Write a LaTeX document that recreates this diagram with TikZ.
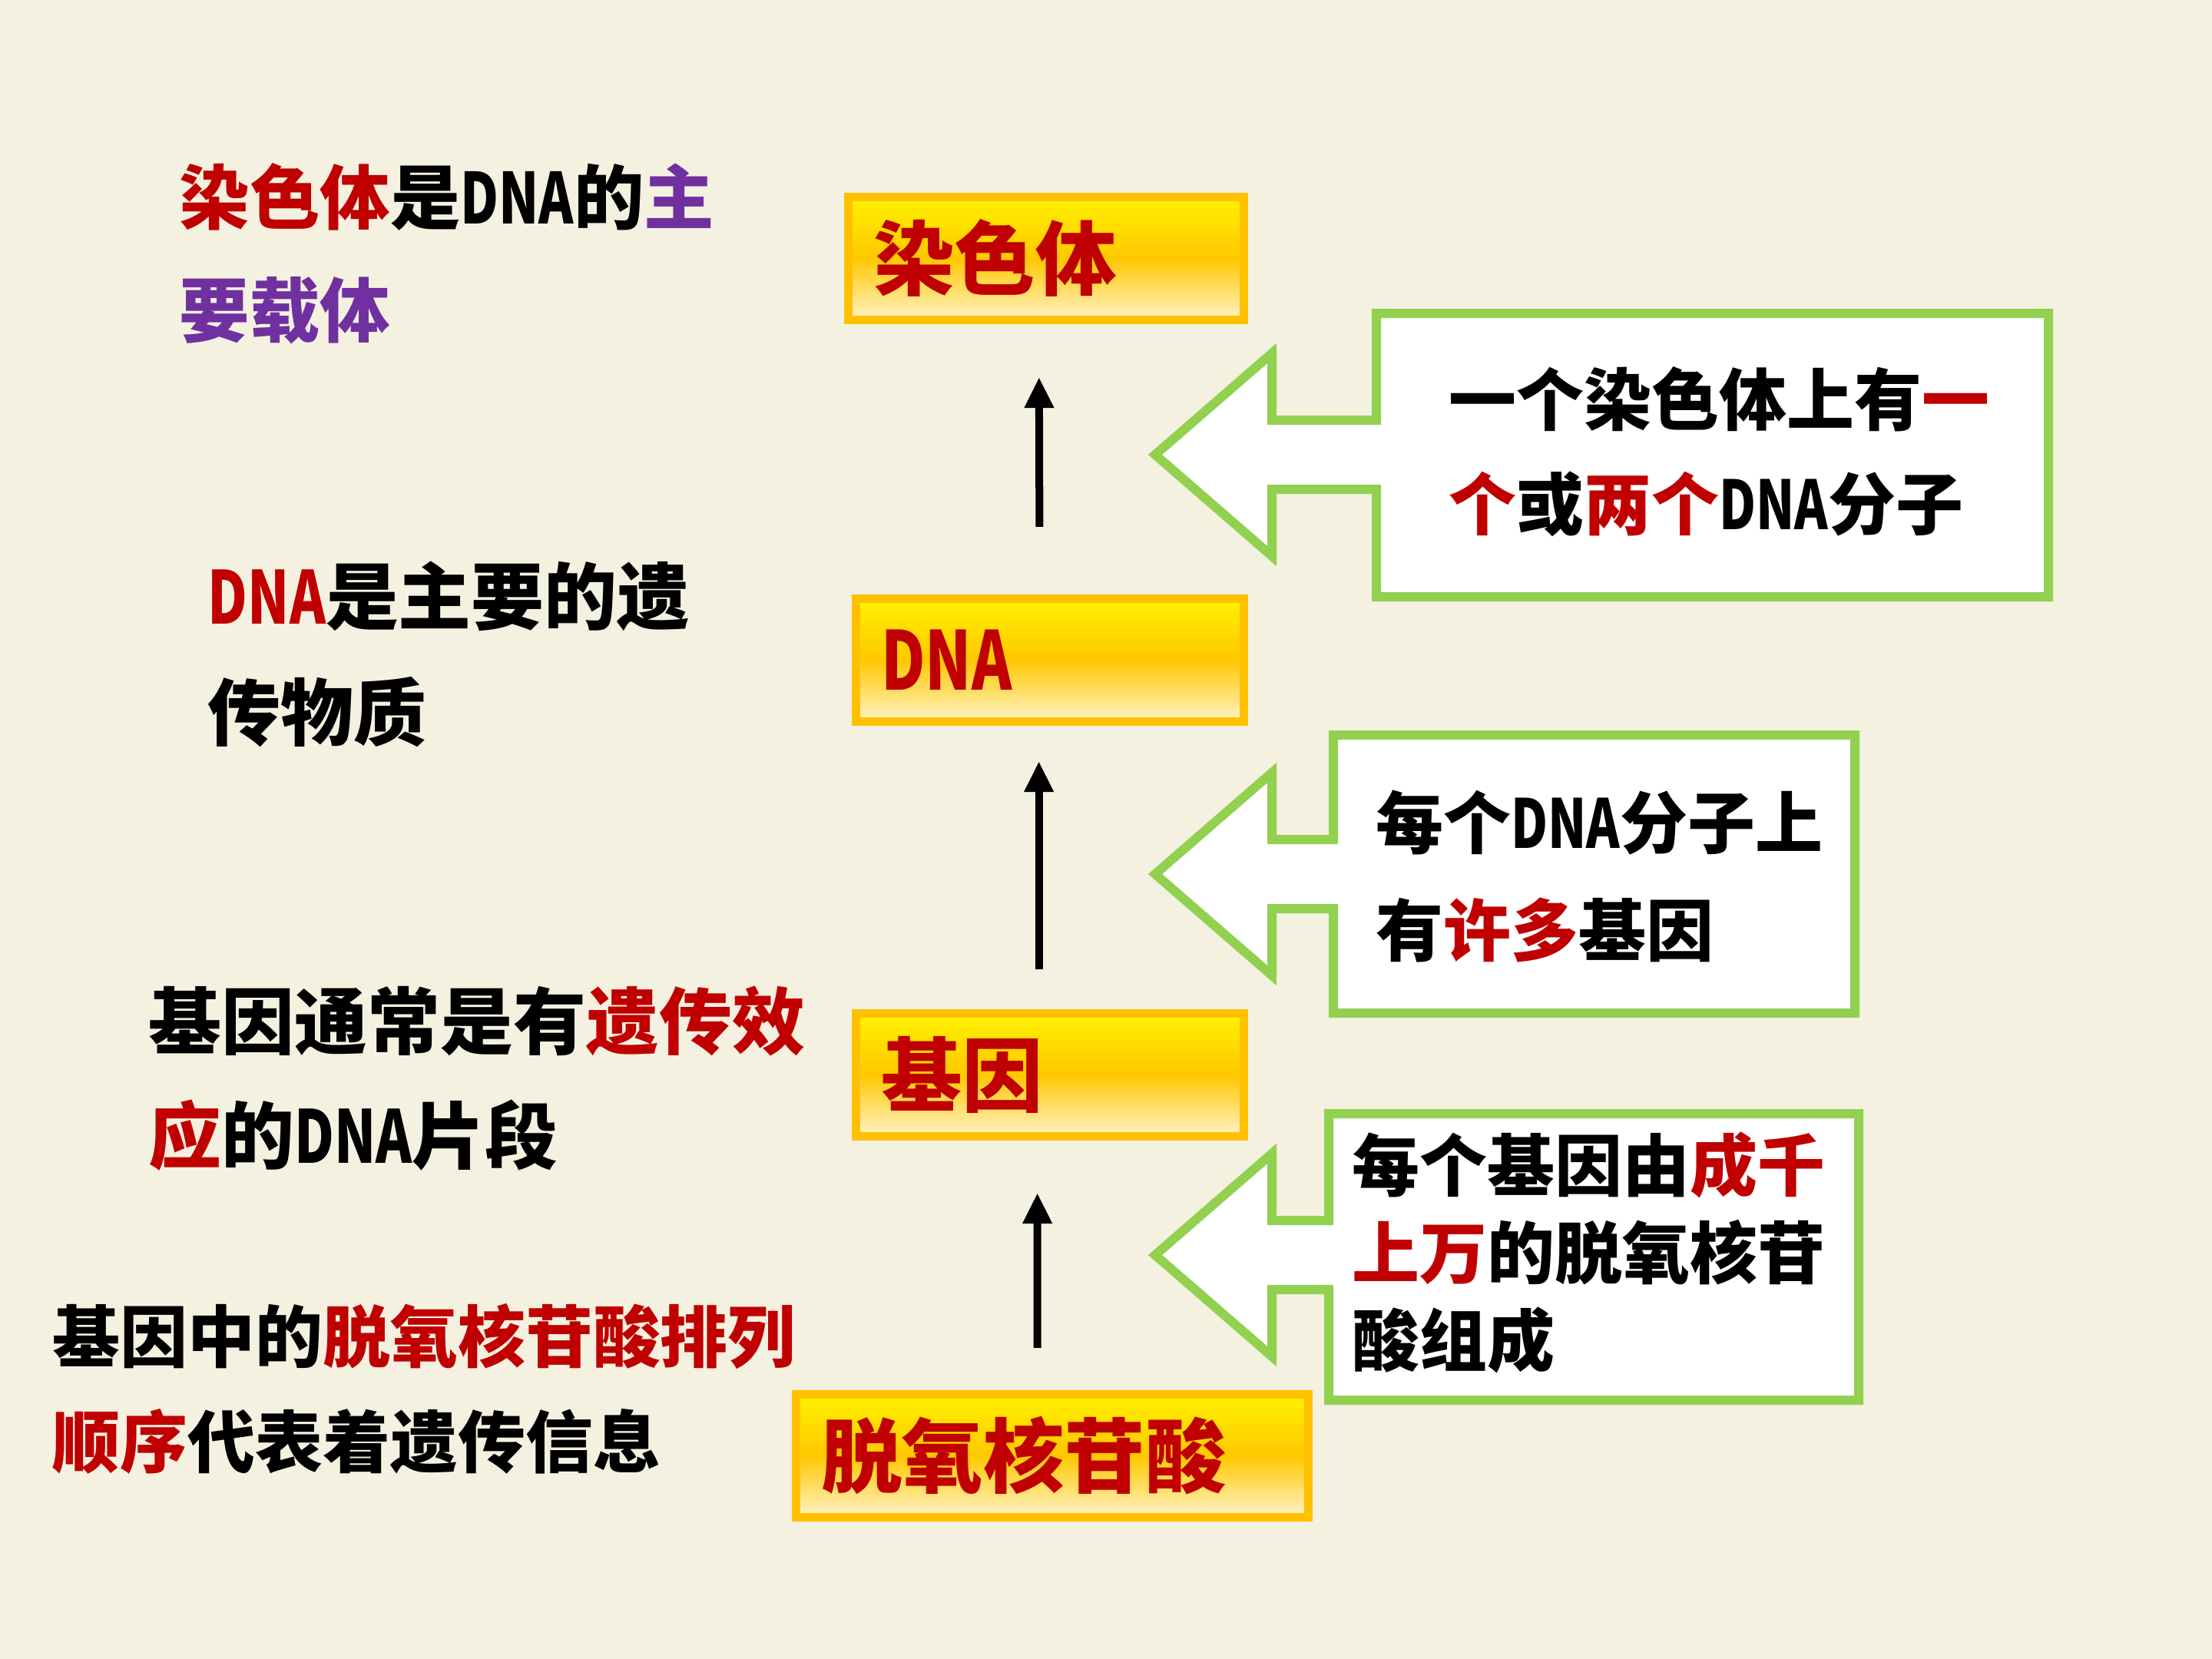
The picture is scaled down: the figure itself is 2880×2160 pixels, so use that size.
\documentclass[tikz,border=0pt]{standalone}
\usepackage{fontspec}
\setmainfont{Noto Sans CJK SC}
\usepackage{graphicx}
\usetikzlibrary{arrows.meta}

\definecolor{slide}{HTML}{F4F1E1}
\definecolor{darkred}{HTML}{C00000}
\definecolor{purp}{HTML}{7030A0}
\definecolor{leafgreen}{HTML}{92D050}
\definecolor{amber}{HTML}{FFC000}
\definecolor{lemon}{HTML}{FFF200}
\definecolor{cream}{HTML}{FFF3C8}

% narrow DNA, as in the slide
\newcommand{\dna}{\scalebox{0.75}[1]{DNA}}
% white callout with a green rim, pointing left
% #1 left, #2 top, #3 right, #4 bottom, #5 tip height
\newcommand{\leftcallout}[5]{%
  \filldraw[callout] (#1,#2) -- (#3,#2) -- (#3,#4) -- (#1,#4) -- (#1,#5+45)
    -- (1656,#5+45) -- (1656,#5+132) -- (1504,#5) -- (1656,#5-132)
    -- (1656,#5-45) -- (#1,#5-45) -- cycle;}

\begin{document}
\begin{tikzpicture}[x=0.01cm, y=-0.01cm,
    titlebox/.style={anchor=north west, draw=amber, line width=0.11cm,
      top color=lemon, bottom color=cream, middle color=amber!85!lemon,
      minimum height=1.6cm, inner xsep=0.33cm, inner ysep=0pt, align=left,
      outer sep=0pt, text=darkred, font=\fontsize{30}{36}\selectfont\bfseries},
    uparrow/.style={line width=0.1cm, -{Triangle[width=0.36cm,length=0.4cm]}},
    callout/.style={draw=leafgreen, fill=white, line width=0.12cm},
    note/.style={anchor=west, inner sep=0pt, align=left}]
  \path[fill=slide, use as bounding box] (0,0) rectangle (2880,2160);

  % the chain
  \node[titlebox, text width=4.49cm] (chrom) at (1104,256) {染色体};
  \node[titlebox, text width=4.39cm] (dna) at (1114,779) {\dna};
  \node[titlebox, text width=4.39cm] (gene) at (1114,1319) {基因};
  \node[titlebox, text width=6.01cm] (base) at (1036,1815) {脱氧核苷酸};

  \draw[uparrow, shorten <=0.93cm, shorten >=0.75cm]
    ([xshift=-0.13cm]dna.north) -- ([xshift=-0.09cm]chrom.south);
  \draw[uparrow, shorten <=0.57cm, shorten >=0.52cm]
    ([xshift=-0.14cm]gene.north) -- ([xshift=-0.14cm]dna.south);
  \draw[uparrow, shorten <=0.6cm, shorten >=0.74cm]
    ([xshift=-0.19cm]base.north) -- ([xshift=-0.16cm]gene.south);

  % callouts
  \leftcallout{1792}{408}{2667}{777}{592}
  \leftcallout{1736}{957}{2415}{1319}{1138}
  \leftcallout{1730}{1450}{2420}{1823}{1634}

  \node[note, font=\fontsize{25}{38.6}\selectfont\bfseries] (perchrom) at (1886,588)
    {一个染色体上有{\color{darkred}一}\\{\color{darkred}个}或{\color{darkred}两个}\dna{}分子};
  \node[note, font=\fontsize{25}{40}\selectfont\bfseries] (perdna) at (1791,1141)
    {每个\dna{}分子上\\有{\color{darkred}许多}基因};
  \node[note, font=\fontsize{25}{32.4}\selectfont\bfseries] (pergene) at (1760,1631)
    {每个基因由{\color{darkred}成千}\\{\color{darkred}上万}的脱氧核苷\\酸组成};

  % notes on the left
  \node[note, font=\fontsize{26}{41.8}\selectfont\bfseries] (carrier) at (233,330)
    {{\color{darkred}染色体}是\dna{}的{\color{purp}主}\\{\color{purp}要载体}};
  \node[note, font=\fontsize{27}{43}\selectfont\bfseries] (material) at (270,852)
    {{\color{darkred}\dna}是主要的遗\\传物质};
  \node[note, font=\fontsize{27}{42.4}\selectfont\bfseries] (segment) at (193,1404)
    {基因通常是有{\color{darkred}遗传效}\\{\color{darkred}应}的\dna{}片段};
  \node[note, font=\fontsize{25}{39}\selectfont\bfseries] (order) at (68,1808)
    {基因中的{\color{darkred}脱氧核苷酸排列}\\{\color{darkred}顺序}代表着遗传信息};
\end{tikzpicture}
\end{document}
